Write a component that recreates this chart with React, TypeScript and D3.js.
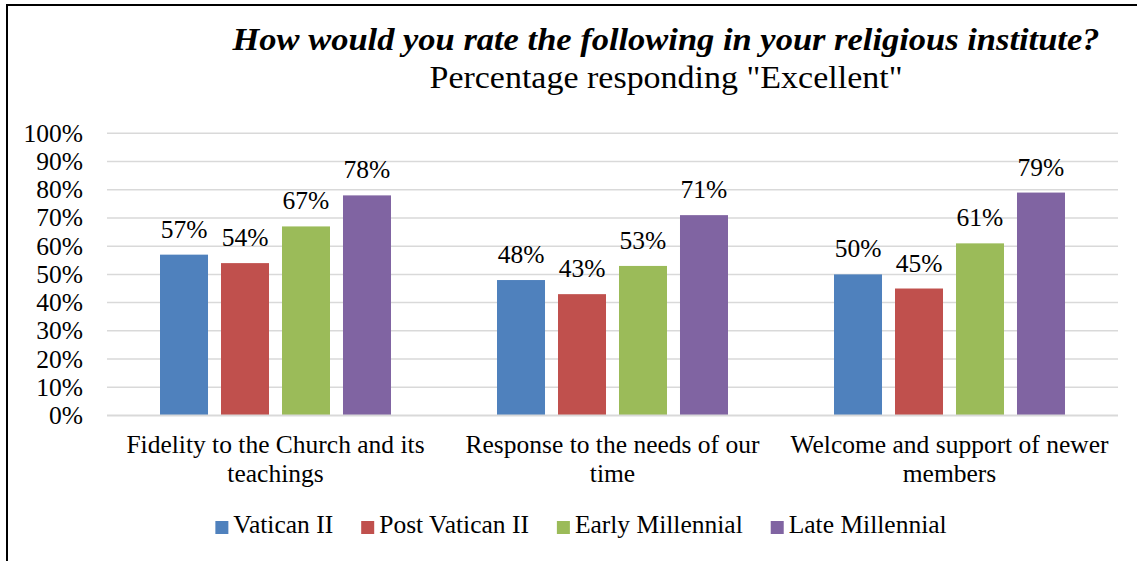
import React, { useEffect, useRef } from "react";
import * as d3 from "d3";

const categories: string[][] = [
  ["Fidelity to the Church and its", "teachings"],
  ["Response to the needs of our", "time"],
  ["Welcome and support of newer", "members"],
];
const seriesNames = ["Vatican II", "Post Vatican II", "Early Millennial", "Late Millennial"];
const seriesColors = ["#4F81BD", "#C0504D", "#9BBB59", "#8064A2"];
const vaticanII = [57, 48, 50];
const postVaticanII = [54, 43, 45];
const earlyMillennial = [67, 53, 61];
const lateMillennial = [78, 71, 79];
const yTicks = [0, 10, 20, 30, 40, 50, 60, 70, 80, 90, 100];
const titleText = "How would you rate the following in your religious institute?";
const subtitleText = 'Percentage responding "Excellent"';

const W = 1137;
const H = 561;
const FONT = "'Liberation Serif', serif";
const FS = 25.5;

export default function App() {
  const ref = useRef<SVGSVGElement>(null);
  useEffect(() => {
    const svg = d3.select(ref.current);
    svg.selectAll("*").remove();
    const series = [vaticanII, postVaticanII, earlyMillennial, lateMillennial];
    const catKeys = categories.map((c) => c.join(" "));

    svg.append("rect").attr("x", 0).attr("y", 0).attr("width", W).attr("height", H).attr("fill", "#fff");
    svg.append("rect").attr("x", 7).attr("y", 5).attr("width", W + 20).attr("height", H + 20)
      .attr("fill", "none").attr("stroke", "#000").attr("stroke-width", 2);

    const x0 = d3.scaleBand<string>().domain(catKeys).range([107, 1118]);
    const x1 = d3.scaleBand<string>().domain(seriesNames).range([0, x0.bandwidth()])
      .paddingInner(0.213).paddingOuter(0.869);
    const y = d3.scaleLinear().domain([0, 100]).range([415.5, 133.3]);

    // gridlines
    svg.append("g").selectAll("line").data(yTicks.filter((t) => t > 0)).join("line")
      .attr("x1", 107).attr("x2", 1118)
      .attr("y1", (d) => y(d)).attr("y2", (d) => y(d))
      .attr("stroke", "#D9D9D9").attr("stroke-width", 1.5);
    // y labels
    svg.append("g").selectAll("text").data(yTicks).join("text")
      .attr("x", 83).attr("y", (d) => y(d) + 8.5)
      .attr("text-anchor", "end")
      .attr("font-family", FONT).attr("font-size", FS).attr("fill", "#000")
      .text((d) => `${d}%`);

    // bars
    series.forEach((vals, si) => {
      const g = svg.append("g");
      g.selectAll("rect").data(vals).join("rect")
        .attr("x", (_, i) => (x0(catKeys[i]) as number) + (x1(seriesNames[si]) as number))
        .attr("y", (d) => y(d))
        .attr("width", x1.bandwidth())
        .attr("height", (d) => y(0) - y(d))
        .attr("fill", seriesColors[si]);
      g.selectAll("text").data(vals).join("text")
        .attr("x", (_, i) => (x0(catKeys[i]) as number) + (x1(seriesNames[si]) as number) + x1.bandwidth() / 2)
        .attr("y", (d) => y(d) - 17)
        .attr("text-anchor", "middle")
        .attr("font-family", FONT).attr("font-size", FS).attr("fill", "#000")
        .text((d) => `${d}%`);
    });

    // axis line
    svg.append("line").attr("x1", 107).attr("x2", 1118).attr("y1", y(0)).attr("y2", y(0))
      .attr("stroke", "#D9D9D9").attr("stroke-width", 2);

    // category labels
    categories.forEach((lines, i) => {
      const cx = (x0(catKeys[i]) as number) + x0.bandwidth() / 2;
      lines.forEach((ln, li) => {
        svg.append("text").attr("x", cx).attr("y", 453 + li * 29)
          .attr("text-anchor", "middle")
          .attr("font-family", FONT).attr("font-size", FS).attr("fill", "#000")
          .text(ln);
      });
    });

    // titles
    svg.append("text").attr("x", 666).attr("y", 50).attr("text-anchor", "middle")
      .attr("font-family", FONT).attr("font-size", 31).attr("font-weight", "bold").attr("font-style", "italic")
      .attr("textLength", 867).attr("lengthAdjust", "spacingAndGlyphs")
      .text(titleText);
    svg.append("text").attr("x", 666).attr("y", 88).attr("text-anchor", "middle")
      .attr("font-family", FONT).attr("font-size", 32)
      .attr("textLength", 473).attr("lengthAdjust", "spacingAndGlyphs")
      .text(subtitleText);

    // legend
    const lg = svg.append("g");
    const items = seriesNames.map((name, i) => {
      const it = lg.append("g");
      it.append("rect").attr("x", 0).attr("y", -12).attr("width", 13).attr("height", 13).attr("fill", seriesColors[i]);
      const t = it.append("text").attr("x", 18).attr("y", 0)
        .attr("font-family", FONT).attr("font-size", FS).attr("fill", "#000").text(name);
      const w = 18 + (t.node() as SVGTextElement).getComputedTextLength();
      return { it, w };
    });
    const gap = 28;
    const total = items.reduce((s, d) => s + d.w, 0) + gap * (items.length - 1);
    let cx = 581 - total / 2;
    items.forEach(({ it, w }) => {
      it.attr("transform", `translate(${cx},533)`);
      cx += w + gap;
    });
  }, []);
  return (
    <svg ref={ref} width={W} height={H} style={{ position: "absolute", left: 0, top: 0 }} />
  );
}
